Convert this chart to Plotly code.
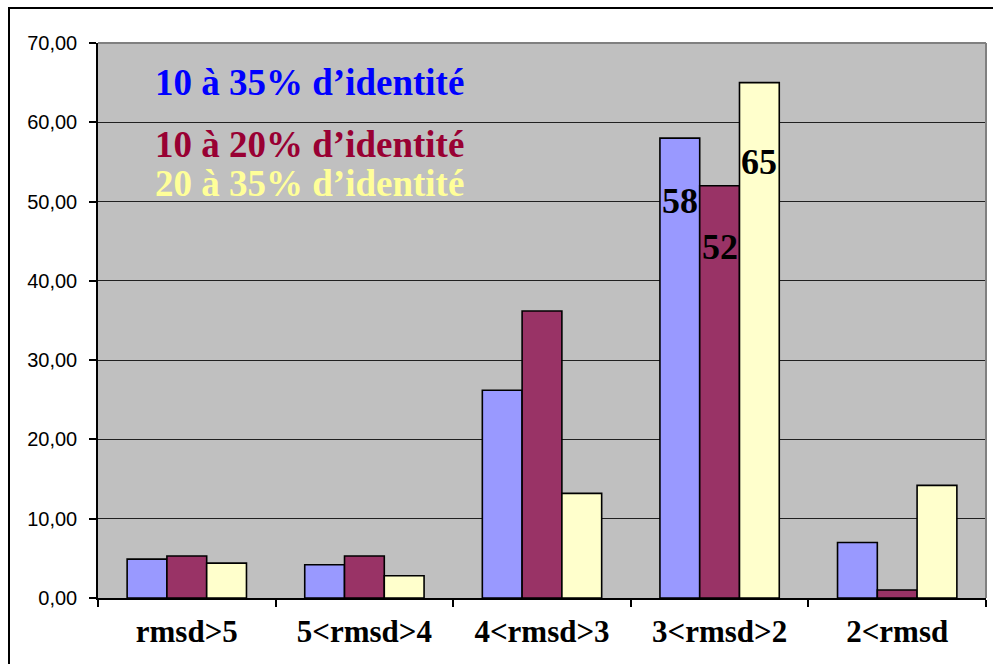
import plotly.graph_objects as go

# RMSD classes and percentage of alignments per identity range
categories = ["rmsd>5", "5<rmsd>4", "4<rmsd>3", "3<rmsd>2", "2<rmsd"]
ident_10_35 = [4.9, 4.2, 26.2, 58, 7.0]
ident_10_20 = [5.3, 5.3, 36.2, 52, 1.0]
ident_20_35 = [4.4, 2.8, 13.2, 65, 14.2]

series_names = ["10 à 35% d’identité", "10 à 20% d’identité", "20 à 35% d’identité"]
bar_colors = ["#9999FF", "#993366", "#FFFFCC"]
text_colors = ["#0000FF", "#990033", "#FFFF99"]

# values written on the bars of the 3<rmsd>2 group
labelled_category = "3<rmsd>2"
label_yshift = [-63, -61, -79]

W, H = 993, 664
ML, MR, MT, MB = 98, 7, 43, 66
plot_w = W - ML - MR
plot_h = H - MT - MB
bargap = 0.328
bar_w = plot_w / len(categories) * (1 - bargap) / 3

fig = go.Figure()
for name, vals, col in zip(series_names, [ident_10_35, ident_10_20, ident_20_35], bar_colors):
    fig.add_trace(go.Bar(
        x=categories, y=vals, name=name,
        marker=dict(color=col, line=dict(color="black", width=1.6)),
        hoverinfo="x+y",
    ))

annotations = []
# series captions in the upper left of the plot area
caption_y = [82.5, 144.7, 183]
for name, col, ypix in zip(series_names, text_colors, caption_y):
    annotations.append(dict(
        xref="paper", yref="paper",
        x=(153 - ML) / plot_w, y=1 - (ypix - MT) / plot_h,
        xanchor="left", yanchor="middle",
        text=name, showarrow=False,
        font=dict(family="Liberation Serif", size=37, color=col, weight="bold"),
    ))

# value labels inside the bars
idx = categories.index(labelled_category)
for k, vals in enumerate([ident_10_35, ident_10_20, ident_20_35]):
    annotations.append(dict(
        x=labelled_category, y=vals[idx], xref="x", yref="y",
        xshift=(k - 1) * bar_w, yshift=label_yshift[k],
        text=f"{vals[idx]:.0f}", showarrow=False,
        xanchor="center", yanchor="middle",
        font=dict(family="Liberation Serif", size=36, color="black", weight="bold"),
    ))

shapes = [
    # outer frame of the chart
    dict(type="rect", xref="paper", yref="paper",
         x0=(9 - ML) / plot_w, x1=1.1, y0=-0.3, y1=1 + (MT - 8) / plot_h,
         line=dict(color="black", width=2), fillcolor="rgba(0,0,0,0)", layer="above"),
    # grey border on top and right of the plot area
    dict(type="line", xref="paper", yref="paper", x0=0, x1=1, y0=1, y1=1,
         line=dict(color="#808080", width=2), layer="above"),
    dict(type="line", xref="paper", yref="paper", x0=1, x1=1, y0=0, y1=1,
         line=dict(color="#808080", width=2), layer="above"),
]

fig.update_layout(
    width=W, height=H,
    margin=dict(l=ML, r=MR, t=MT, b=MB, pad=0),
    barmode="group", bargap=bargap, bargroupgap=0,
    plot_bgcolor="#C0C0C0", paper_bgcolor="white",
    showlegend=False,
    separators=", ",
    annotations=annotations,
    shapes=shapes,
)
fig.update_xaxes(
    type="category",
    showline=True, linecolor="black", linewidth=1.5,
    ticks="outside", tickson="boundaries", ticklen=7, tickcolor="black", tickwidth=1.5,
    ticklabelstandoff=5,
    tickfont=dict(family="Liberation Serif", size=31, color="black", weight="bold"),
    showgrid=False,
)
fig.update_yaxes(
    range=[0, 70], dtick=10, tickformat=".2f",
    showline=True, linecolor="black", linewidth=1.5,
    ticks="outside", ticklen=7, tickcolor="black", tickwidth=1.5,
    ticklabelstandoff=8,
    tickfont=dict(family="Liberation Sans", size=20, color="black"),
    showgrid=True, gridcolor="#202020", gridwidth=1,
    zeroline=False,
)

fig.write_html("out.html")
